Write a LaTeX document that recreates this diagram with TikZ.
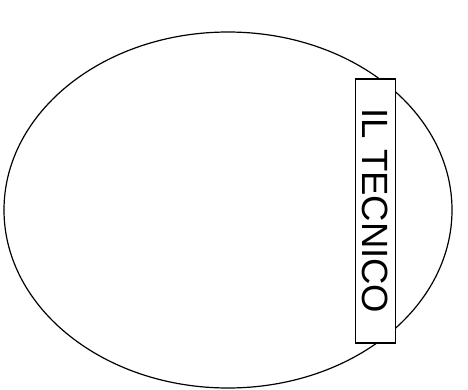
\documentclass[tikz,border=0pt]{standalone}
\usepackage{fontspec}
\setmainfont{Liberation Sans}
\begin{document}
\begin{tikzpicture}[x=1pt,y=-1pt,
  oval/.style={draw=black,line width=1.2pt},
  labelbox/.style={draw=black,fill=white,line width=1.3pt,rotate=-90,
    minimum width=264pt,minimum height=40pt,inner sep=0pt,
    font=\fontsize{36.5pt}{40pt}\selectfont}]
\useasboundingbox (0,0) rectangle (468,389);
\draw[oval] (228,210) ellipse [x radius=224, y radius=178];
\node[labelbox] (tec) at (375.5,211) {IL TECNICO};
\end{tikzpicture}
\end{document}
